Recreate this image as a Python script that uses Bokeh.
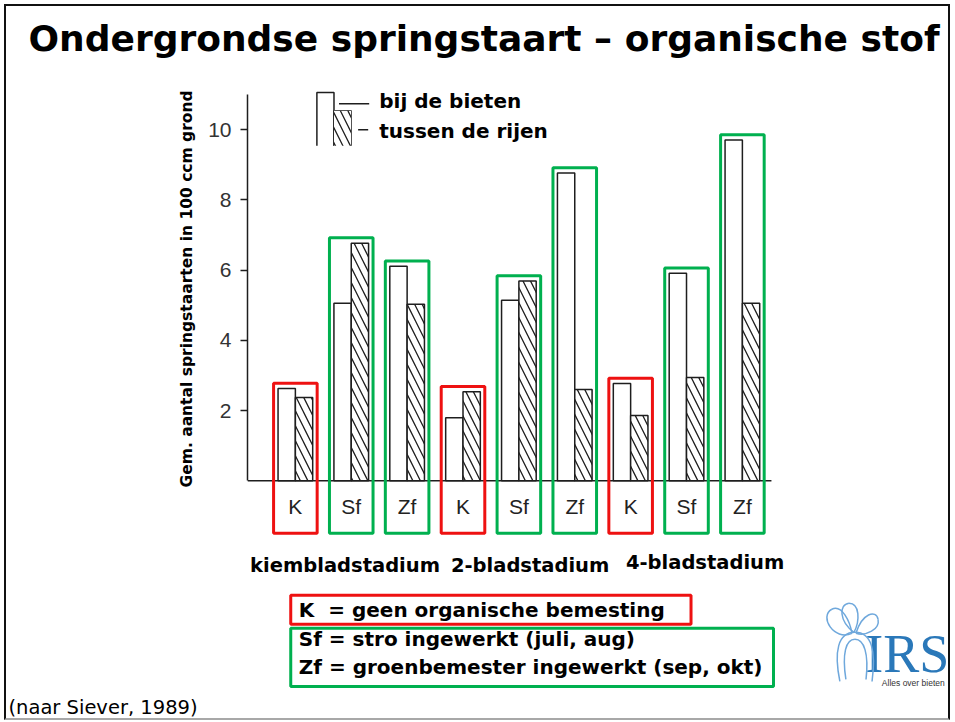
import numpy as np
from bokeh.plotting import figure
from bokeh.models import Range1d, FixedTicker, Title
from bokeh.embed import file_html
from bokeh.resources import INLINE
from bokeh.core.properties import value

# ---------------- data ----------------
categories = ["K", "Sf", "Zf", "K", "Sf", "Zf", "K", "Sf", "Zf"]
stages = ["kiembladstadium", "2-bladstadium", "4-bladstadium"]
bij_de_bieten = [2.63, 5.06, 6.11, 1.80, 5.14, 8.77, 2.77, 5.91, 9.71]
tussen_de_rijen = [2.37, 6.77, 5.03, 2.54, 5.69, 2.60, 1.86, 2.94, 5.06]
y_ticks = [2, 4, 6, 8, 10]
legend_labels = ["bij de bieten", "tussen de rijen"]
key_lines = ["K\u00a0 = geen organische bemesting",
             "Sf = stro ingewerkt (juli, aug)",
             "Zf = groenbemester ingewerkt (sep, okt)"]
title_text = "Ondergrondse springstaart \u2013 organische stof"
y_label = "Gem. aantal springstaarten in 100 ccm grond"
source_text = "(naar Siever, 1989)"
logo_text = "IRS"
logo_sub = "Alles over bieten"

# ---------------- geometry (page pixels) ----------------
OX, OY = 6, 6              # canvas origin on the page
W, H = 942, 712            # canvas size
FL, FR = 247, 948          # frame left / right on the page
FT, FB = 58, 687           # frame top / bottom on the page
X0, XS = 294.6, 55.56      # page px of category 0, px per category
Y0, YS = 479.0, 35.0       # page px of y=0, px per unit


def px(x):
    return (x - X0) / XS


def py(y):
    return (Y0 - y) / YS


x_range = Range1d(px(FL), px(FR))
y_range = Range1d(py(FB), py(FT))

p = figure(width=W, height=H, x_range=x_range, y_range=y_range,
           x_axis_location=None, output_backend="svg", toolbar_location=None,
           min_border=0, min_border_left=FL - OX, min_border_right=OX + W - FR,
           min_border_top=FT - OY, min_border_bottom=OY + H - FB,
           styles={"box-sizing": "content-box", "margin": "4px 0 0 4px",
                   "border": "2px solid #111", "border-bottom-color": "#a8a8a8"})
p.outline_line_color = None
p.grid.grid_line_color = None
p.background_fill_color = "white"
p.border_fill_color = "white"

ink = "#1e1e1e"
bold = "DejaVu Sans"
thin = "Liberation Sans"

# title (top) and source (bottom)
p.title.text = title_text
p.title.text_font = bold
p.title.text_font_style = "bold"
p.title.text_font_size = "36px"
p.title.text_color = "black"
p.title.align = "left"
p.title.offset = 28 - FL
p.title.standoff = 0
p.title.vertical_align = "bottom"

p.add_layout(Title(text=source_text, align="left", offset=8 - FL, standoff=8,
                   vertical_align="bottom",
                   text_font=bold, text_font_style="normal", text_font_size="19.5px",
                   text_color="black"), "below")

# y axis
ax = p.yaxis[0]
ax.ticker = FixedTicker(ticks=y_ticks)
ax.bounds = (0, 11.0)
ax.axis_line_color = ink
ax.axis_line_width = 1.5
ax.major_tick_line_color = ink
ax.major_tick_line_width = 1.5
ax.major_tick_out = 7
ax.major_tick_in = 0
ax.minor_tick_line_color = None
ax.major_label_text_font = thin
ax.major_label_text_font_size = "21px"
ax.major_label_text_color = "#333333"
ax.major_label_standoff = 9

# y-axis title: starts at the bottom, shifted up to sit beside the axis line
p.add_layout(Title(text=y_label, align="left", offset=FB - 485,
                   standoff=20, text_font=bold, text_font_style="bold",
                   text_font_size="15.5px", text_color="black"), "left")

# bars
idx = np.arange(len(categories))
bw = 0.31
p.vbar(x=idx - bw / 2, width=bw, bottom=0, top=bij_de_bieten,
       fill_color="white", line_color=ink, line_width=1.5)
p.vbar(x=idx + bw / 2, width=bw, bottom=0, top=tussen_de_rijen,
       fill_color="white", line_color=ink, line_width=1.5,
       hatch_pattern="\\", hatch_scale=15, hatch_weight=1.3, hatch_color=ink)

# baseline
p.segment(x0=[x_range.start], y0=[0], x1=[len(categories) - 0.48], y1=[0],
          line_color=ink, line_width=1.5)

# highlight boxes
box_top = np.maximum(bij_de_bieten, tussen_de_rijen) + 0.15
box_col = ["#ee1111" if c == "K" else "#00b04f" for c in categories]
p.quad(left=idx - 0.39, right=idx + 0.39, top=box_top, bottom=-1.49,
       fill_color=None, line_color=box_col, line_width=3)

# category labels
p.text(x=idx, y=-0.74, text=categories, text_font=value(thin),
       text_font_size="21px", text_align="center", text_baseline="middle",
       text_color="#222222")

# stage labels
p.text(x=[px(344), px(528), px(702)], y=[py(563), py(563), py(560)], text=stages,
       text_font=value(bold), text_font_style="bold", text_font_size="19.5px",
       text_align="center", text_baseline="middle", text_color="black")

# legend (top)
p.multi_line(xs=[[px(316), px(316), px(333), px(333)],
                 [px(333), px(333), px(350), px(350)],
                 [px(338), px(368)], [px(357), px(367)]],
             ys=[[py(145), py(92), py(92), py(145)],
                 [py(145), py(110), py(110), py(145)],
                 [py(103), py(103)], [py(129), py(129)]],
             line_color=ink, line_width=1.5)
p.quad(left=px(333), right=px(350), top=py(110), bottom=py(145),
       fill_color="white", line_color=None,
       hatch_pattern="\\", hatch_scale=15, hatch_weight=1.3, hatch_color=ink)
p.text(x=px(378), y=[py(100), py(130)], text=legend_labels,
       text_font=value(bold), text_font_style="bold", text_font_size="20px",
       text_align="left", text_baseline="middle", text_color="black")

# key boxes
p.quad(left=[px(290), px(290)], right=[px(688), px(770)],
       top=[py(593), py(626)], bottom=[py(622), py(684)],
       fill_color=None, line_color=["#ee1111", "#00b04f"], line_width=3)
p.text(x=px(298), y=[py(608), py(637), py(665)], text=key_lines,
       text_font=value(bold), text_font_style="bold", text_font_size="20px",
       text_align="left", text_baseline="middle", text_color="black")

# logo
p.text(x=[px(903)], y=[py(652)], text=[logo_text], text_font=value("Liberation Serif"),
       text_font_size="54px", text_align="center", text_baseline="middle",
       text_color="#2a78b9")
p.text(x=[px(909)], y=[py(681)], text=[logo_sub], text_font=value("Liberation Sans"),
       text_font_size="8.5px", text_align="center", text_baseline="middle",
       text_color="#333333")
curves = [
    ((836, 679), (830, 649), (834, 630), (851, 630)),
    ((851, 630), (868, 630), (872, 649), (868, 679)),
    ((842, 677), (838, 651), (842, 637), (851, 637)),
    ((851, 637), (860, 637), (865, 651), (862, 677)),
    ((848, 631), (830, 639), (815, 614), (828, 607)),
    ((828, 607), (838, 602), (846, 619), (848, 631)),
    ((850, 630), (835, 619), (835, 602), (845, 601)),
    ((845, 601), (856, 601), (856, 619), (850, 630)),
    ((852, 631), (858, 611), (872, 607), (874, 617)),
    ((874, 617), (876, 627), (862, 634), (852, 631)),
]
p.bezier(x0=[px(c[0][0]) for c in curves], y0=[py(c[0][1]) for c in curves],
         cx0=[px(c[1][0]) for c in curves], cy0=[py(c[1][1]) for c in curves],
         cx1=[px(c[2][0]) for c in curves], cy1=[py(c[2][1]) for c in curves],
         x1=[px(c[3][0]) for c in curves], y1=[py(c[3][1]) for c in curves],
         line_color="#6fa8dc", line_width=1.5)

open("out.html", "w").write(file_html(p, INLINE))
